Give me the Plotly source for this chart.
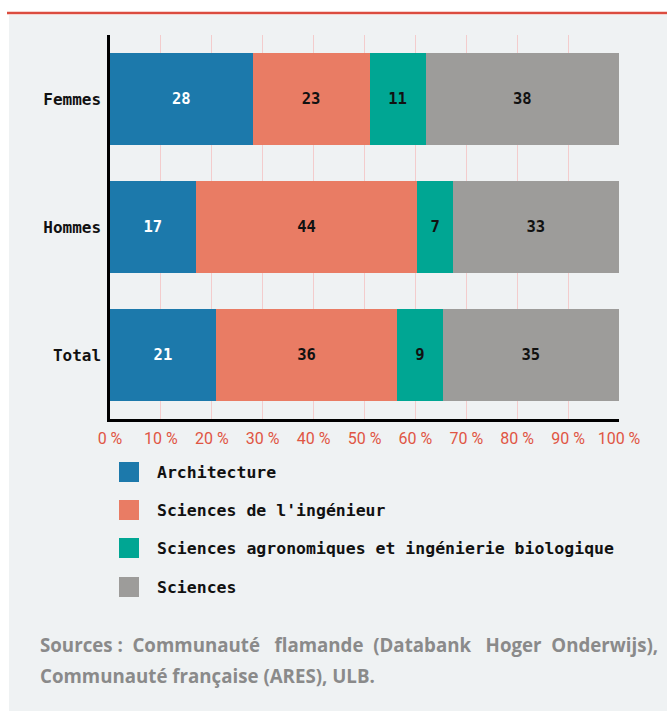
import plotly.graph_objects as go

categories = ["Total", "Hommes", "Femmes"]
series_names = ["Architecture", "Sciences de l'ingénieur",
                "Sciences agronomiques et ingénierie biologique", "Sciences"]
series_values = {
    "Architecture": [21, 17, 28],
    "Sciences de l'ingénieur": [36, 44, 23],
    "Sciences agronomiques et ingénierie biologique": [9, 7, 11],
    "Sciences": [35, 33, 38],
}
colors = ["#1c79ab", "#e97c64", "#00a693", "#9d9c9a"]
text_colors = ["#ffffff", "#111111", "#111111", "#111111"]
tick_vals = [0, 10, 20, 30, 40, 50, 60, 70, 80, 90, 100]
tick_text = [f"{v} %" for v in tick_vals]
source_lines = ["Sources :  Communauté   flamande  (Databank   Hoger  Onderwijs),",
                "Communauté française (ARES), ULB."]

MONO = "DejaVu Sans Mono"
W, H = 667, 711
L, R, T, B = 110, 48, 35, 292
pw, ph = W - L - R, H - T - B

def px(x):
    return (x - L) / pw

def py(y):
    return (H - B - y) / ph

fig = go.Figure()
for name, col, tcol in zip(series_names, colors, text_colors):
    vals = series_values[name]
    fig.add_trace(go.Bar(
        y=categories, x=vals, name=name, orientation="h",
        marker=dict(color=col, line=dict(width=0)),
        text=[str(v) for v in vals], texttemplate="%{text}",
        textposition="inside", insidetextanchor="middle",
        textfont=dict(family=MONO, size=15.5, color=tcol, weight="bold"),
        showlegend=False, width=0.72,
    ))

shapes = [
    dict(type="rect", xref="paper", yref="paper", x0=px(9), x1=px(W + 5),
         y0=py(H + 5), y1=py(15), fillcolor="#eff2f3", line=dict(width=0), layer="below"),
    dict(type="line", xref="paper", yref="paper", x0=px(7), x1=px(W + 5),
         y0=py(13), y1=py(13), line=dict(color="#db4c3f", width=2.5), layer="below"),
]
annotations = []
leg_y = [472, 510, 548, 587]
for i, (name, col) in enumerate(zip(series_names, colors)):
    yc = leg_y[i]
    shapes.append(dict(type="rect", xref="paper", yref="paper",
                       x0=px(119), x1=px(139), y0=py(yc + 10), y1=py(yc - 10),
                       fillcolor=col, line=dict(width=0)))
    annotations.append(dict(text=name, xref="paper", yref="paper", x=px(155), y=py(yc),
                            xanchor="left", yanchor="middle", showarrow=False,
                            font=dict(family=MONO, size=16.5, color="#111111", weight="bold")))
for j, line in enumerate(source_lines):
    annotations.append(dict(text=line, xref="paper", yref="paper", x=px(38), y=py(644 + 31 * j),
                            xanchor="left", yanchor="middle", showarrow=False,
                            font=dict(family="Open Sans", size=18.7, color="#8a8a8a", weight="bold")))

fig.update_layout(
    width=W, height=H, barmode="stack", barnorm="percent",
    margin=dict(l=L, r=R, t=T, b=B, autoexpand=False),
    paper_bgcolor="#ffffff", plot_bgcolor="rgba(0,0,0,0)",
    shapes=shapes, annotations=annotations, showlegend=False,
    xaxis=dict(range=[0, 100], tickvals=tick_vals, ticktext=tick_text,
               showgrid=True, gridcolor="#f3cccc", gridwidth=1, zeroline=False,
               showline=True, linecolor="#000000", linewidth=2.5,
               ticks="", ticklen=0, ticklabelstandoff=3,
               tickfont=dict(family="Roboto", size=16, color="#e05543")),
    yaxis=dict(range=[-0.5, 2.5], showgrid=False, zeroline=False,
               showline=True, linecolor="#000000", linewidth=2.5, ticks="",
               ticklabelstandoff=3,
               tickfont=dict(family=MONO, size=16, color="#111111", weight="bold")),
)
fig.write_html("out.html")
